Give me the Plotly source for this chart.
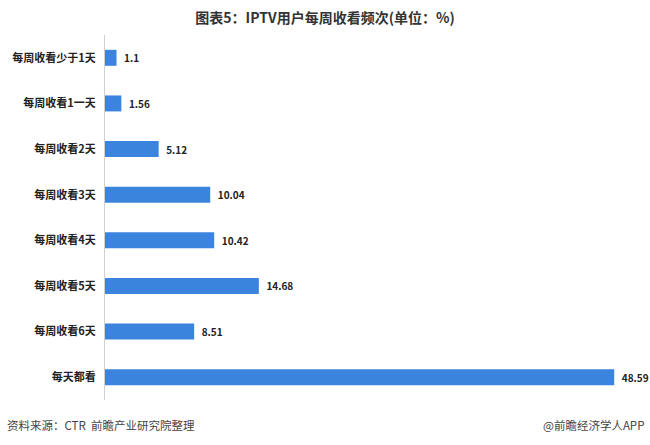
import plotly.graph_objects as go

categories = ["每周收看少于1天", "每周收看1一天", "每周收看2天", "每周收看3天",
              "每周收看4天", "每周收看5天", "每周收看6天", "每天都看"]
values = [1.1, 1.56, 5.12, 10.04, 10.42, 14.68, 8.51, 48.59]
value_labels = ["  1.1", "  1.56", "  5.12", "  10.04", "  10.42", "  14.68", "  8.51", "  48.59"]

font_cjk = "Noto Sans CJK SC, Noto Sans, sans-serif"

fig = go.Figure(go.Bar(
    x=values, y=categories, orientation="h",
    marker=dict(color="#3b84de", line=dict(width=0)),
    text=value_labels, textposition="outside",
    textfont=dict(family=font_cjk, size=10, color="#222222", weight="bold"),
    cliponaxis=False, width=0.35,
))

fig.update_layout(
    width=650, height=445,
    margin=dict(l=105, r=21, t=35, b=45),
    paper_bgcolor="white", plot_bgcolor="white",
    showlegend=False,
    title=dict(text="图表5：IPTV用户每周收看频次(单位：%)", x=0.5, xanchor="center",
               y=0.96, yanchor="middle",
               font=dict(family=font_cjk, size=14, color="#333333", weight="bold")),
    xaxis=dict(range=[0, 50], showgrid=False, zeroline=False, showticklabels=False,
               showline=False, ticks=""),
    yaxis=dict(autorange="reversed", showgrid=False, zeroline=False,
               showline=True, linecolor="#d0d0d0", linewidth=1, ticks="",
               ticklabelstandoff=6,
               tickfont=dict(family=font_cjk, size=11, color="#222222", weight="bold")),
    annotations=[
        dict(text="资料来源：CTR  前瞻产业研究院整理", xref="paper", yref="paper",
             x=-100/524, y=-25/365, xanchor="left", yanchor="middle", showarrow=False,
             font=dict(family=font_cjk, size=11.5, color="#444444")),
        dict(text="@前瞻经济学人APP", xref="paper", yref="paper",
             x=1 + 21/524 - 4/524, y=-25/365, xanchor="right", yanchor="middle", showarrow=False,
             font=dict(family=font_cjk, size=11.5, color="#444444")),
    ],
)

fig.write_html("out.html", config={"displayModeBar": False},
               post_script="document.body.style.margin='0';document.body.style.overflow='hidden';")
